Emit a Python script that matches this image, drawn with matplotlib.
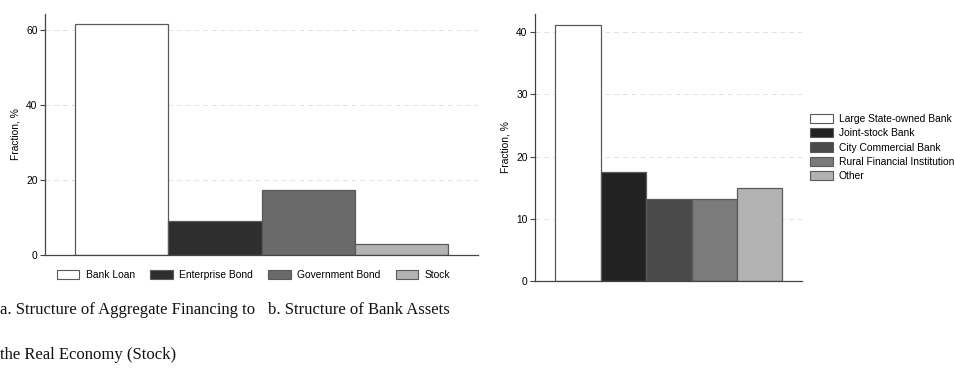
import matplotlib
matplotlib.use("Agg")
import matplotlib.pyplot as plt
from matplotlib.patches import Patch

# financing stock shares (%)
fin_labels = ["Bank Loan", "Enterprise Bond", "Government Bond", "Stock"]
fin_values = [61.7, 9.0, 17.4, 3.0]
fin_colors = ["#ffffff", "#2e2e2e", "#6a6a6a", "#b3b3b3"]

# bank asset shares (%)
bank_labels = ["Large State-owned Bank", "Joint-stock Bank", "City Commercial Bank",
               "Rural Financial Institution", "Other"]
bank_values = [41.2, 17.5, 13.1, 13.2, 14.9]
bank_colors = ["#ffffff", "#222222", "#4a4a4a", "#7b7b7b", "#b3b3b3"]

fin_ticks = [0, 20, 40, 60]
bank_ticks = [0, 10, 20, 30, 40]

plt.rcParams["font.family"] = ["Liberation Sans", "DejaVu Sans"]

fig = plt.figure(figsize=(9.55, 3.69), dpi=100)
W, H = 955, 369
FS = 7.4
EDGE = "#5a5a5a"


def style(ax, ticks):
    for s in ["top", "right"]:
        ax.spines[s].set_visible(False)
    for s in ["left", "bottom"]:
        ax.spines[s].set_color("#444444")
        ax.spines[s].set_linewidth(0.9)
    ax.set_yticks(ticks)
    ax.set_xticks([])
    ax.tick_params(axis="y", labelsize=FS, length=3.8, width=0.8, color="#444444", pad=1.5)
    for t in ticks[1:]:
        ax.axhline(t, color="#e2e2e2", lw=0.7, ls=(0, (5, 4)), zorder=0)
    ax.set_ylabel("Fraction, %", fontsize=FS, labelpad=4)


# panel a
ax1 = fig.add_axes([45 / W, 1 - 255 / H, 433 / W, 241 / H])
x1 = range(len(fin_values))
ax1.bar(x1, fin_values, width=1.0, color=fin_colors, edgecolor=EDGE, linewidth=0.9, zorder=2)
ax1.set_xlim(-0.82, 3.82)
ax1.set_ylim(0, 64.4)
style(ax1, fin_ticks)
h1 = [Patch(facecolor=c, edgecolor=EDGE, linewidth=0.8) for c in fin_colors]
ax1.legend(h1, fin_labels, loc="upper center", bbox_to_anchor=(0.4815, -0.025), ncol=4,
           frameon=False, fontsize=FS, handlelength=2.2, handleheight=1.0,
           columnspacing=1.5, handletextpad=0.6)

# panel b
ax2 = fig.add_axes([535 / W, 1 - 281 / H, 267 / W, 267 / H])
x2 = range(len(bank_values))
ax2.bar(x2, bank_values, width=1.0, color=bank_colors, edgecolor=EDGE, linewidth=0.9, zorder=2)
ax2.set_xlim(-0.95, 4.93)
ax2.set_ylim(0, 42.9)
style(ax2, bank_ticks)
h2 = [Patch(facecolor=c, edgecolor=EDGE, linewidth=0.8) for c in bank_colors]
ax2.legend(h2, bank_labels, loc="center left", bbox_to_anchor=(1.015, 0.5),
           frameon=False, fontsize=FS, handlelength=2.2, handleheight=1.0,
           labelspacing=0.4, handletextpad=0.6, borderaxespad=0)

# captions
cap = dict(family="Liberation Serif", fontsize=12, color="#111111", va="center", ha="left")
fig.text(0 / W, 1 - 310 / H, "a. Structure of Aggregate Financing to", **cap)
fig.text(0 / W, 1 - 355 / H, "the Real Economy (Stock)", **cap)
fig.text(268 / W, 1 - 310 / H, "b. Structure of Bank Assets", **cap)

fig.savefig("out.png", dpi=100)
